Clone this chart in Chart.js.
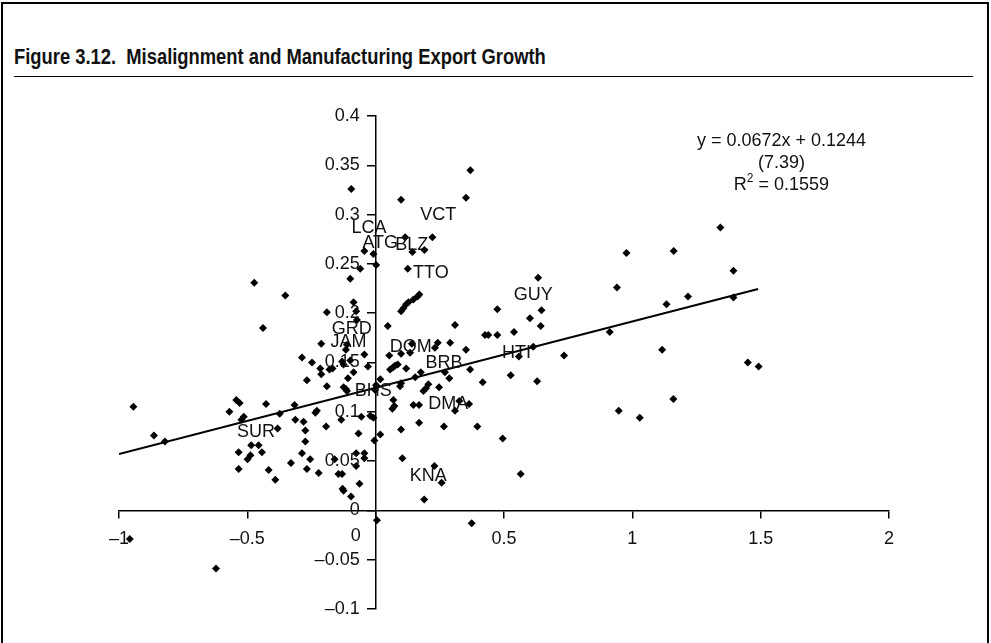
<!DOCTYPE html>
<html>
<head>
<meta charset="utf-8">
<title>Misalignment and Manufacturing Export Growth</title>
<script src="https://cdn.jsdelivr.net/npm/chart.js@4.4.1/dist/chart.umd.min.js"></script>
<style>
  html, body { margin: 0; padding: 0; background: #fff; }
  body { width: 991px; height: 643px; position: relative; overflow: hidden; }
  .frame { position: absolute; left: 1px; top: 2px; width: 984px; height: 700px; border: 2.5px solid #000; }
  .title { position: absolute; left: 14px; top: 44px; font: bold 22px "Liberation Sans", Arial, sans-serif; white-space: pre; color: #111; transform: scaleX(0.835); transform-origin: 0 0; }
  .rule { position: absolute; left: 14px; top: 76px; width: 959px; border-top: 1.3px solid #000; }
  #chart { position: absolute; left: 0; top: 0; }
</style>
</head>
<body>
<div class="frame"></div>
<div class="title">Figure 3.12.  Misalignment and Manufacturing Export Growth</div>
<div class="rule"></div>
<canvas id="chart" width="991" height="643"></canvas>
<script>
// real exchange rate misalignment (x) against manufacturing export growth (y)
const misalignment = [
  -0.473, -0.352, -0.439, -0.190, -0.095, -0.099, -0.060, -0.044, -0.009, 0.002,
  -0.086, -0.076, -0.073, -0.212, -0.112, -0.116, -0.044, 0.047, 0.099, 0.115,
  0.143, 0.125, 0.190, 0.221, 0.369, 0.352, 0.099, 0.108, 0.119, 0.128,
  0.147, 0.163, 0.170, 0.309, 0.290, 0.242, 0.231, 0.352, 0.141, 0.099,
  0.053, 0.134, 1.343, 0.977, 1.161, 0.940, 1.217, 1.133, 0.633, 0.646,
  0.601, 0.643, 0.474, 0.539, 0.474, 0.426, 0.439, 0.912, 1.116, 0.734,
  0.614, 0.558, 1.394, 1.394, 1.450, 1.492, 1.160, 0.947, 1.029, 0.629,
  0.526, 0.495, 0.565, 0.396, 0.417, 0.368, 0.364, 0.326, 0.309, 0.266,
  0.247, 0.287, 0.270, 0.205, 0.196, 0.186, 0.176, 0.154, 0.169, 0.147,
  0.169, 0.119, 0.099, 0.095, 0.056, 0.067, 0.076, 0.086, 0.069, 0.073,
  0.065, 0.099, 0.104, 0.018, 0.005, 0.018, -0.005, 0.229, 0.257, 0.189,
  0.374, 0.005, -0.944, -0.864, -0.821, -0.622, -0.958, -0.570, -0.543, -0.530,
  -0.514, -0.523, -0.427, -0.382, -0.374, -0.534, -0.485, -0.456, -0.443, -0.488,
  -0.499, -0.534, -0.417, -0.391, -0.330, -0.316, -0.313, -0.281, -0.274, -0.274,
  -0.287, -0.255, -0.268, -0.222, -0.235, -0.229, -0.193, -0.190, -0.268, -0.287,
  -0.248, -0.216, -0.212, -0.180, -0.168, -0.131, -0.125, -0.086, -0.108, -0.125,
  -0.116, -0.112, -0.030, -0.134, -0.056, -0.021, -0.009, -0.067, -0.076, -0.044,
  -0.044, -0.160, -0.145, -0.131, -0.076, -0.063, -0.129, -0.125, -0.096, 0.001,
  -0.002, -0.099,
];
const exportGrowth = [
  0.231, 0.218, 0.185, 0.201, 0.326, 0.235, 0.245, 0.263, 0.260, 0.249,
  0.211, 0.202, 0.193, 0.169, 0.168, 0.163, 0.158, 0.187, 0.315, 0.277,
  0.262, 0.245, 0.264, 0.277, 0.345, 0.317, 0.202, 0.205, 0.209, 0.211,
  0.214, 0.217, 0.219, 0.188, 0.170, 0.170, 0.165, 0.163, 0.169, 0.159,
  0.157, 0.160, 0.287, 0.261, 0.263, 0.226, 0.217, 0.209, 0.236, 0.203,
  0.195, 0.187, 0.204, 0.181, 0.178, 0.178, 0.178, 0.181, 0.163, 0.157,
  0.166, 0.156, 0.243, 0.216, 0.150, 0.146, 0.113, 0.101, 0.094, 0.131,
  0.137, 0.073, 0.037, 0.085, 0.130, 0.143, 0.108, 0.111, 0.101, 0.085,
  0.125, 0.134, 0.140, 0.128, 0.124, 0.121, 0.140, 0.135, 0.107, 0.107,
  0.089, 0.144, 0.129, 0.126, 0.143, 0.145, 0.147, 0.148, 0.112, 0.106,
  0.103, 0.082, 0.053, 0.133, 0.126, 0.077, 0.071, 0.045, 0.028, 0.011,
  -0.013, -0.010, 0.105, 0.076, 0.070, -0.059, -0.029, 0.100, 0.112, 0.109,
  0.095, 0.092, 0.108, 0.083, 0.098, 0.059, 0.066, 0.066, 0.059, 0.056,
  0.052, 0.042, 0.041, 0.031, 0.048, 0.107, 0.092, 0.090, 0.081, 0.070,
  0.058, 0.052, 0.042, 0.038, 0.099, 0.101, 0.085, 0.126, 0.132, 0.155,
  0.150, 0.144, 0.138, 0.143, 0.144, 0.151, 0.148, 0.140, 0.134, 0.125,
  0.123, 0.121, 0.146, 0.092, 0.095, 0.096, 0.094, 0.078, 0.058, 0.058,
  0.053, 0.052, 0.037, 0.037, 0.045, 0.027, 0.022, 0.020, 0.014, 0.127,
  0.122, 0.152,
];

const xTicks = [-1, -0.5, 0, 0.5, 1, 1.5, 2];
const yTicks = [-0.1, -0.05, 0, 0.05, 0.1, 0.15, 0.2, 0.25, 0.3, 0.35, 0.4];

// country codes and where their text sits, in axis units
const countryCodes = ["VCT", "LCA", "ATG", "BLZ", "TTO", "GUY", "GRD", "JAM", "DOM", "BRB", "HTI", "BHS", "DMA", "SUR", "KNA"];
const codeX = [0.244, -0.026, 0.018, 0.141, 0.215, 0.614, -0.093, -0.106, 0.137, 0.266, 0.549, -0.009, 0.283, -0.466, 0.205];
const codeY = [0.300, 0.286, 0.271, 0.269, 0.241, 0.218, 0.184, 0.171, 0.166, 0.149, 0.160, 0.121, 0.108, 0.079, 0.035];

// fitted line and its annotation
const trendSlope = 0.0672;
const trendIntercept = 0.1244;
const trendFrom = -1;
const trendTo = 1.49;
const tStat = "(7.39)";
const rSquared = "0.1559";
const equationAt = { x: 1.581, y: 0.375 };

const FONT = '"Liberation Sans", Arial, sans-serif';
const TEXT = "#111";

function fmt(v) {
  const s = String(Number(v.toFixed(2)));
  return v < 0 ? "\u2013" + s.slice(1) : s;
}

const points = misalignment.map((x, i) => ({ x, y: exportGrowth[i] }));
const trend = [trendFrom, trendTo].map((x) => ({ x, y: trendSlope * x + trendIntercept }));

const annotations = {
  id: "annotations",
  afterDraw(chart) {
    const { ctx, scales } = chart;
    const xs = scales.x;
    const ys = scales.y;
    const x0 = xs.getPixelForValue(0);
    const y0 = ys.getPixelForValue(0);
    ctx.save();
    ctx.fillStyle = TEXT;
    ctx.font = "18px " + FONT;
    ctx.textBaseline = "middle";

    // y tick labels, left of the tick marks on the vertical axis
    ctx.textAlign = "right";
    const yGap = ys.options.grid.tickLength + 8;
    yTicks.forEach((v) => ctx.fillText(fmt(v), x0 - yGap, ys.getPixelForValue(v)));

    ctx.textAlign = "center";
    countryCodes.forEach((code, i) => {
      ctx.fillText(code, xs.getPixelForValue(codeX[i]), ys.getPixelForValue(codeY[i]));
    });

    // the x-axis zero sits left of the vertical axis
    ctx.fillText("0", x0 - 20, y0 + 26);

    const ex = xs.getPixelForValue(equationAt.x);
    const ey = ys.getPixelForValue(equationAt.y);
    ctx.fillText(`y = ${trendSlope}x + ${trendIntercept}`, ex, ey);
    ctx.fillText(tStat, ex, ey + 22);

    const rest = " = " + rSquared;
    const wR = ctx.measureText("R").width;
    const wRest = ctx.measureText(rest).width;
    ctx.font = "12px " + FONT;
    const wSup = ctx.measureText("2").width;
    const left = ex - (wR + wSup + wRest) / 2;
    ctx.textAlign = "left";
    ctx.font = "18px " + FONT;
    ctx.fillText("R", left, ey + 44);
    ctx.font = "12px " + FONT;
    ctx.fillText("2", left + wR, ey + 38);
    ctx.font = "18px " + FONT;
    ctx.fillText(rest, left + wR + wSup, ey + 44);
    ctx.restore();
  },
};

new Chart(document.getElementById("chart"), {
  type: "scatter",
  data: {
    datasets: [
      {
        data: points,
        pointStyle: "rectRot",
        pointRadius: 4,
        backgroundColor: "#000",
        borderWidth: 0,
      },
      {
        type: "line",
        data: trend,
        borderColor: "#000",
        borderWidth: 2,
        pointRadius: 0,
        fill: false,
      },
    ],
  },
  options: {
    responsive: false,
    devicePixelRatio: 1,
    animation: false,
    layout: { padding: { left: 119, right: 102, top: 116, bottom: 34 } },
    plugins: { legend: { display: false }, tooltip: { enabled: false } },
    scales: {
      x: {
        type: "linear",
        min: -1,
        max: 2,
        position: { y: 0 },
        afterFit: (scale) => { scale.height = 0; },
        afterBuildTicks: (scale) => { scale.ticks = xTicks.map((value) => ({ value })); },
        ticks: {
          autoSkip: false,
          maxRotation: 0,
          padding: 11,
          color: TEXT,
          font: { family: FONT, size: 18 },
          callback: (v) => (v === 0 ? "" : fmt(v)),
        },
        grid: { drawOnChartArea: false, tickLength: 7, color: "#000", lineWidth: 1.5 },
        border: { color: "#000", width: 1.5 },
      },
      y: {
        type: "linear",
        min: -0.1,
        max: 0.4,
        position: { x: 0 },
        afterFit: (scale) => { scale.width = 0; },
        afterBuildTicks: (scale) => { scale.ticks = yTicks.map((value) => ({ value })); },
        ticks: { display: false },
        grid: { drawOnChartArea: false, tickLength: 8, color: "#000", lineWidth: 1.5 },
        border: { color: "#000", width: 1.5 },
      },
    },
  },
  plugins: [annotations],
});
</script>
</body>
</html>
